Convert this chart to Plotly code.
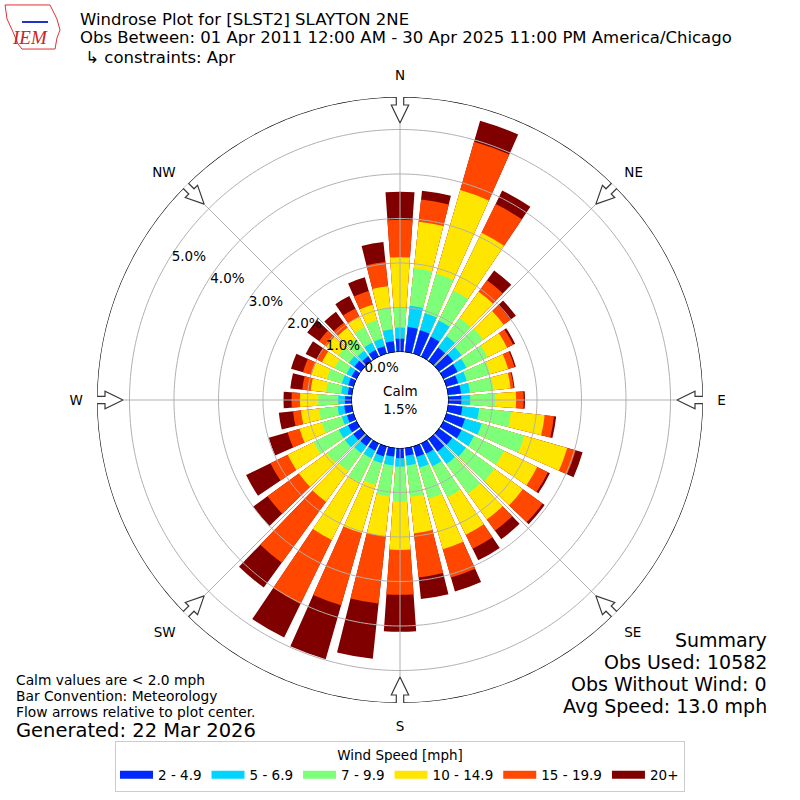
import numpy as np
import plotly.graph_objects as go


# =====================================================
# DATA  (percent of observations, cumulative by speed bin)
# =====================================================

directions = list(range(0, 360, 10))

speed_bins = ["2 - 4.9", "5 - 6.9", "7 - 9.9", "10 - 14.9", "15 - 19.9", "20+"]

bin_colors = ["#0028ff", "#00d4ff", "#7dff7a", "#ffe600", "#ff4700", "#800000"]

cum_2_5 = [0.30, 0.57, 0.55, 0.50, 0.38, 0.40, 0.36, 0.28, 0.30, 0.30,
           0.33, 0.44, 0.46, 0.37, 0.35, 0.26, 0.25, 0.18,
           0.23, 0.20, 0.24, 0.19, 0.20, 0.22, 0.22, 0.16, 0.18,
           0.16, 0.10, 0.13, 0.13, 0.19, 0.14, 0.17, 0.18, 0.25]

cum_5_7 = [0.55, 1.05, 0.95, 0.91, 0.70, 0.63, 0.58, 0.48, 0.50, 0.50,
           0.71, 0.83, 0.77, 0.75, 0.70, 0.58, 0.50, 0.40,
           0.42, 0.40, 0.40, 0.38, 0.40, 0.45, 0.45, 0.28, 0.33,
           0.31, 0.25, 0.28, 0.26, 0.34, 0.29, 0.35, 0.36, 0.52]

cum_7_10 = [1.00, 1.90, 1.87, 1.66, 1.20, 1.23, 1.11, 1.03, 1.03, 1.06,
            1.43, 1.83, 1.52, 1.55, 1.52, 1.35, 1.23, 1.11,
            1.20, 1.10, 0.91, 0.98, 0.90, 0.95, 1.08, 0.75, 0.75,
            0.76, 0.59, 0.63, 0.56, 0.63, 0.63, 0.74, 0.79, 1.01]

cum_10_15 = [2.13, 2.95, 3.83, 3.10, 1.93, 1.80, 1.60, 1.45, 1.42, 1.53,
             2.19, 2.83, 2.35, 2.33, 2.24, 2.29, 2.41, 1.93,
             2.29, 2.00, 2.03, 2.42, 1.75, 1.73, 1.73, 1.27, 1.16,
             1.17, 0.94, 0.99, 0.87, 0.97, 0.93, 1.00, 1.15, 1.49]

cum_15_20 = [2.97, 3.45, 4.96, 3.82, 2.25, 1.99, 1.75, 1.60, 1.49, 1.70,
             2.40, 3.03, 2.62, 2.88, 2.55, 2.64, 3.07, 2.93,
             3.30, 3.52, 3.72, 4.02, 3.44, 2.60, 2.16, 1.55, 1.34,
             1.36, 1.13, 1.19, 1.00, 1.17, 1.07, 1.21, 1.47, 2.04]

cum_20_up = [3.60, 3.65, 5.45, 4.16, 2.52, 2.14, 1.80, 1.63, 1.51, 1.73,
             2.45, 3.19, 2.67, 2.94, 2.79, 2.93, 3.40, 3.42,
             4.13, 4.77, 4.98, 4.86, 4.13, 3.00, 2.77, 1.99, 1.66,
             1.54, 1.40, 1.47, 1.28, 1.50, 1.37, 1.52, 1.79, 2.49]

cumulative = [cum_2_5, cum_5_7, cum_7_10, cum_10_15, cum_15_20, cum_20_up]

radial_ticks = [0, 1, 2, 3, 4, 5]
radial_labels = ["0.0%", "1.0%", "2.0%", "3.0%", "4.0%", "5.0%"]

compass_deg = [0, 45, 90, 135, 180, 225, 270, 315]
compass_names = ["N", "NE", "E", "SE", "S", "SW", "W", "NW"]

calm_pct = "1.5%"


# =====================================================
# GEOMETRY (pixels on the 800x800 page)
# =====================================================

R_PX = 303
HOLE_PX = 48
PX_PER_UNIT = 44.5
R_MAX = (R_PX - HOLE_PX) / PX_PER_UNIT


def arrow_shape(theta0):
    # block arrow pointing at the centre, defined in pixel offsets
    pts = [(306, -3.7), (295, -3.7), (295, -8.7), (277, 0),
           (295, 8.7), (295, 3.7), (306, 3.7), (306, -3.7)]
    rr, tt = [], []
    for d, w in pts:
        rr.append((np.hypot(d, w) - HOLE_PX) / PX_PER_UNIT)
        tt.append(theta0 + np.degrees(np.arctan2(w, d)))
    return rr, tt


fig = go.Figure()

# bars: biggest first so the smaller bins overlay on top
for i in reversed(range(len(speed_bins))):
    fig.add_trace(go.Barpolar(
        r=cumulative[i],
        theta=directions,
        width=8,
        name=speed_bins[i],
        legendgroup=speed_bins[i],
        showlegend=False,
        marker=dict(color=bin_colors[i], line=dict(width=0)),
        hoverinfo="skip",
    ))

# legend entries drawn as flat colour swatches
for i in range(len(speed_bins)):
    fig.add_trace(go.Scatterpolar(
        r=[None], theta=[None], mode="lines",
        name=speed_bins[i], legendgroup=speed_bins[i],
        line=dict(color=bin_colors[i], width=8),
        hoverinfo="skip",
    ))

# grid drawn above the bars
circle_theta = np.linspace(0, 360, 361)
for v in radial_ticks[1:]:
    fig.add_trace(go.Scatterpolar(
        r=[v] * len(circle_theta), theta=circle_theta, mode="lines",
        line=dict(color="#b0b0b0", width=1), showlegend=False, hoverinfo="skip",
    ))
for a in compass_deg:
    fig.add_trace(go.Scatterpolar(
        r=[0, R_MAX], theta=[a, a], mode="lines",
        line=dict(color="#b0b0b0", width=1), showlegend=False, hoverinfo="skip",
    ))

# inner (calm) and outer circles
for v in [0, R_MAX]:
    fig.add_trace(go.Scatterpolar(
        r=[v] * len(circle_theta), theta=circle_theta, mode="lines",
        line=dict(color="black", width=1.2), showlegend=False, hoverinfo="skip",
        cliponaxis=False,
    ))

# flow arrows
ar, at = [], []
for a in compass_deg:
    rr, tt = arrow_shape(a)
    ar += rr + [None]
    at += tt + [None]
fig.add_trace(go.Scatterpolar(
    r=ar, theta=at, mode="lines", fill="toself", fillcolor="white",
    line=dict(color="#3a3a3a", width=1.2), showlegend=False,
    hoverinfo="skip", cliponaxis=False,
))

d0 = (400 - R_PX) / 800
d1 = (400 + R_PX) / 800

fig.update_layout(
    width=800,
    height=800,
    margin=dict(l=0, r=0, t=0, b=0),
    paper_bgcolor="white",
    font=dict(family="DejaVu Sans", size=13, color="black"),
    polar=dict(
        domain=dict(x=[d0, d1], y=[d0, d1]),
        hole=HOLE_PX / R_PX,
        bgcolor="white",
        barmode="overlay",
        radialaxis=dict(
            range=[0, R_MAX],
            tickvals=radial_ticks,
            ticktext=radial_labels,
            angle=150,
            tickangle=150,
            showline=False,
            showgrid=False,
            ticks="outside",
            ticklen=2,
            tickcolor="rgba(0,0,0,0)",
            tickfont=dict(size=13.5),
        ),
        angularaxis=dict(
            direction="clockwise",
            rotation=90,
            tickvals=compass_deg,
            ticktext=compass_names,
            showgrid=False,
            showline=False,
            ticks="outside",
            ticklen=11,
            tickcolor="rgba(0,0,0,0)",
            tickfont=dict(size=13.5),
        ),
    ),
    legend=dict(
        orientation="h",
        x=0.5,
        xanchor="center",
        y=1 - 741 / 800,
        yanchor="top",
        bordercolor="#cccccc",
        borderwidth=1,
        font=dict(size=13.5),
        title=dict(text="Wind Speed [mph]", side="top center", font=dict(size=13.5)),
        itemwidth=33,
    ),
)


def px_note(text, x, y, size, anchor="left", **kw):
    fig.add_annotation(
        text=text, x=x / 800, y=1 - y / 800, xref="paper", yref="paper",
        xanchor=anchor, yanchor="middle", showarrow=False,
        font=dict(size=size, **kw),
    )


def px_path(points):
    return "M " + " L ".join(f"{x / 800:.4f},{1 - y / 800:.4f}" for x, y in points)


# IEM logo (rough)
fig.add_shape(
    type="path", xref="paper", yref="paper",
    path=px_path([(5, 5), (50, 5), (53, 11), (57, 19), (60, 30), (57, 38),
                  (55, 49), (22, 49), (18, 44), (13, 32), (7, 19)]) + " Z",
    line=dict(color="#dd3333", width=1),
)
fig.add_shape(
    type="path", xref="paper", yref="paper",
    path=px_path([(22, 22), (48, 22)]),
    line=dict(color="#2233cc", width=2),
)
px_note("<i>IEM</i>", 30, 38, 19, anchor="center", color="#cc2222", family="Liberation Serif")

px_note("Windrose Plot for [SLST2] SLAYTON 2NE", 78, 19, 16.5)
px_note("Obs Between: 01 Apr 2011 12:00 AM - 30 Apr 2025 11:00 PM America/Chicago", 78, 38, 16.5)
px_note(" ↳ constraints: Apr", 78, 57, 16.5)

px_note("Calm values are < 2.0 mph", 14, 680, 13.8)
px_note("Bar Convention: Meteorology", 14, 696, 13.8)
px_note("Flow arrows relative to plot center.", 14, 712, 13.8)
px_note("Generated: 22 Mar 2026", 14, 730, 19.5)

px_note("Summary", 769, 640, 19, anchor="right")
px_note("Obs Used: 10582", 769, 662, 19, anchor="right")
px_note("Obs Without Wind: 0", 769, 684, 19, anchor="right")
px_note("Avg Speed: 13.0 mph", 769, 706, 19, anchor="right")

fig.add_annotation(
    text="Calm<br>" + calm_pct, x=0.5, y=0.5, xref="paper", yref="paper",
    showarrow=False, font=dict(size=13.5),
)

fig.write_html(
    "out.html",
    config={"displayModeBar": False},
    post_script="document.body.style.margin='0px';",
)
